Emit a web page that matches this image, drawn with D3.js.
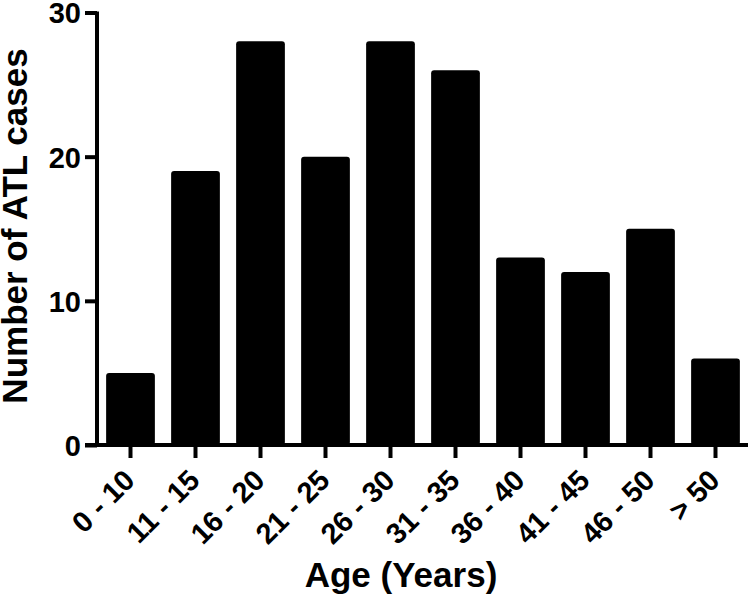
<!DOCTYPE html>
<html>
<head>
<meta charset="utf-8">
<script src="https://cdnjs.cloudflare.com/ajax/libs/d3/7.8.5/d3.min.js"></script>
<style>
  body { margin: 0; background: #fff; }
  text { font-family: "Liberation Sans", Arial, sans-serif; font-weight: bold; fill: #000; }
</style>
</head>
<body>
<div id="chart"></div>
<script>
var ageGroups = ['0 - 10', '11 - 15', '16 - 20', '21 - 25', '26 - 30', '31 - 35', '36 - 40', '41 - 45', '46 - 50', '> 50'];
var atlCases = [5, 19, 28, 20, 28, 26, 13, 12, 15, 6];
var yTicks = [0, 10, 20, 30];

var width = 750, height = 598;

var svg = d3.select('#chart').append('svg')
    .attr('width', width)
    .attr('height', height);

var x = d3.scaleBand()
    .domain(ageGroups)
    .range([98, 748])
    .paddingInner(0.25)
    .paddingOuter(0.125);

var y = d3.scaleLinear()
    .domain([0, 30])
    .range([445, 12.5]);

// bars
svg.append('g')
    .selectAll('rect')
    .data(atlCases)
    .enter()
    .append('rect')
    .attr('x', function(d, i){ return x(ageGroups[i]); })
    .attr('y', function(d){ return y(d); })
    .attr('width', x.bandwidth())
    .attr('height', function(d){ return y(0) - y(d); })
    .attr('rx', 3)
    .attr('fill', '#000');

// y axis
var yAxis = svg.append('g')
    .attr('transform', 'translate(97,0)')
    .call(d3.axisLeft(y).tickValues(yTicks).tickSize(12).tickPadding(5).tickSizeOuter(0));

yAxis.select('.domain').attr('stroke-width', 4).attr('d', 'M0,' + (y(30) - 1) + 'V' + (y(0) + 2));
yAxis.selectAll('.tick line').attr('stroke-width', 4);
yAxis.selectAll('.tick text')
    .attr('font-size', 29)
    .attr('x', -16)
    .attr('dy', '0.36em');

// x axis
var xAxis = svg.append('g')
    .attr('transform', 'translate(0,' + y(0) + ')')
    .call(d3.axisBottom(x).tickSize(13).tickSizeOuter(0));

xAxis.select('.domain').attr('stroke-width', 4).attr('d', 'M85,0H748');
xAxis.selectAll('.tick line').attr('stroke-width', 4);
xAxis.selectAll('.tick text')
    .attr('font-size', 29)
    .attr('text-anchor', 'end')
    .attr('y', null)
    .attr('dy', null)
    .attr('transform', 'translate(6,37) rotate(-45)');

// axis titles
svg.append('text')
    .attr('text-anchor', 'middle')
    .attr('font-size', 35)
    .attr('transform', 'translate(401,587)')
    .text('Age (Years)');

svg.append('text')
    .attr('text-anchor', 'middle')
    .attr('font-size', 35)
    .attr('transform', 'translate(27,226) rotate(-90)')
    .text('Number of ATL cases');
</script>
</body>
</html>
